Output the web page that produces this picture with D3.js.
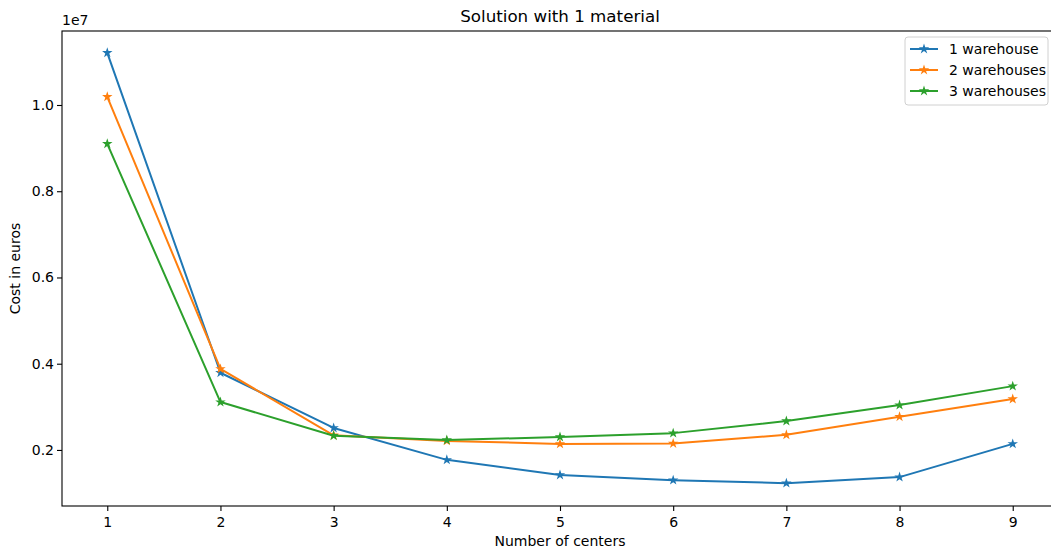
<!DOCTYPE html>
<html>
<head>
<meta charset="utf-8">
<script src="https://cdn.jsdelivr.net/npm/d3@7"></script>
<style>
  body { margin: 0; background: #fff; }
  svg { display: block; font-family: "DejaVu Sans", sans-serif; }
</style>
</head>
<body>
<div id="chart"></div>
<script>
// ---------------- Data ----------------
const centers = [1, 2, 3, 4, 5, 6, 7, 8, 9];
const oneWarehouse   = [11.21e6, 3.79e6, 2.51e6, 1.77e6, 1.42e6, 1.30e6, 1.23e6, 1.37e6, 2.14e6];
const twoWarehouses  = [10.19e6, 3.88e6, 2.34e6, 2.21e6, 2.14e6, 2.15e6, 2.35e6, 2.77e6, 3.18e6];
const threeWarehouses = [9.10e6, 3.11e6, 2.33e6, 2.23e6, 2.30e6, 2.39e6, 2.67e6, 3.04e6, 3.48e6];
const seriesNames = ["1 warehouse", "2 warehouses", "3 warehouses"];
const seriesColors = ["#1f77b4", "#ff7f0e", "#2ca02c"];
const yTicks = [2e6, 4e6, 6e6, 8e6, 10e6];

const width = 1051, height = 551;
const plot = { left: 62, top: 31, right: 1058, bottom: 506 };

const svg = d3.select("#chart").append("svg")
    .attr("width", width)
    .attr("height", height);

// ---------------- Scales ----------------
const x = d3.scaleLinear().domain([0.6, 9.4]).range([plot.left, plot.right]);
const y = d3.scaleLinear().domain([0.70e6, 11.716e6]).range([plot.bottom, plot.top]);

// ---------------- Axes ----------------
const xAxis = svg.append("g")
    .attr("transform", `translate(0,${plot.bottom})`)
    .call(d3.axisBottom(x).tickValues(centers).tickFormat(d3.format("d")).tickSize(5).tickSizeOuter(0));

const yAxis = svg.append("g")
    .attr("transform", `translate(${plot.left},0)`)
    .call(d3.axisLeft(y).tickValues(yTicks).tickFormat(d => (d / 1e7).toFixed(1)).tickSize(5).tickSizeOuter(0));

[xAxis, yAxis].forEach(a => {
    a.select(".domain").remove();
    a.selectAll("line").attr("stroke", "#000").attr("stroke-width", 1.1);
    a.selectAll("text").attr("fill", "#000").style("font-size", "14px")
        .style("font-family", "DejaVu Sans");
});
xAxis.selectAll("text").attr("dy", "0.9em");

// frame
svg.append("rect")
    .attr("x", plot.left).attr("y", plot.top)
    .attr("width", plot.right - plot.left).attr("height", plot.bottom - plot.top)
    .attr("fill", "none").attr("stroke", "#000").attr("stroke-width", 1.1);

// offset text
svg.append("text").attr("x", plot.left).attr("y", 25)
    .style("font-size", "14px").text("1e7");

// ---------------- Lines ----------------
const allSeries = [oneWarehouse, twoWarehouses, threeWarehouses];
const line = d3.line().x((d, i) => x(centers[i])).y(d => y(d));
const star = d3.symbol().type(d3.symbolStar).size(34);

allSeries.forEach((vals, s) => {
    svg.append("path")
        .datum(vals)
        .attr("fill", "none")
        .attr("stroke", seriesColors[s])
        .attr("stroke-width", 2)
        .attr("stroke-linejoin", "round")
        .attr("d", line);
    svg.selectAll(null)
        .data(vals)
        .enter().append("path")
        .attr("d", star)
        .attr("fill", seriesColors[s])
        .attr("transform", (d, i) => `translate(${x(centers[i])},${y(d)})`);
});

// ---------------- Labels ----------------
svg.append("text")
    .attr("x", (plot.left + plot.right) / 2).attr("y", 22)
    .attr("text-anchor", "middle").style("font-size", "16.7px")
    .text("Solution with 1 material");

svg.append("text")
    .attr("x", (plot.left + plot.right) / 2).attr("y", 546)
    .attr("text-anchor", "middle").style("font-size", "14px")
    .text("Number of centers");

svg.append("text")
    .attr("transform", `translate(20,${(plot.top + plot.bottom) / 2}) rotate(-90)`)
    .attr("text-anchor", "middle").style("font-size", "14px")
    .text("Cost in euros");

// ---------------- Legend ----------------
const legend = svg.append("g").attr("transform", "translate(905,37)");
legend.append("rect")
    .attr("width", 143).attr("height", 68).attr("rx", 3)
    .attr("fill", "#fff").attr("fill-opacity", 0.8)
    .attr("stroke", "#d0d0d0");

seriesNames.forEach((name, s) => {
    const row = legend.append("g").attr("transform", `translate(0,${12 + s * 21})`);
    row.append("line").attr("x1", 5).attr("x2", 33)
        .attr("stroke", seriesColors[s]).attr("stroke-width", 2);
    row.append("path").attr("d", star).attr("fill", seriesColors[s])
        .attr("transform", "translate(19,0)");
    row.append("text").attr("x", 44).attr("dy", "0.35em")
        .style("font-size", "14px").text(name);
});
</script>
</body>
</html>
